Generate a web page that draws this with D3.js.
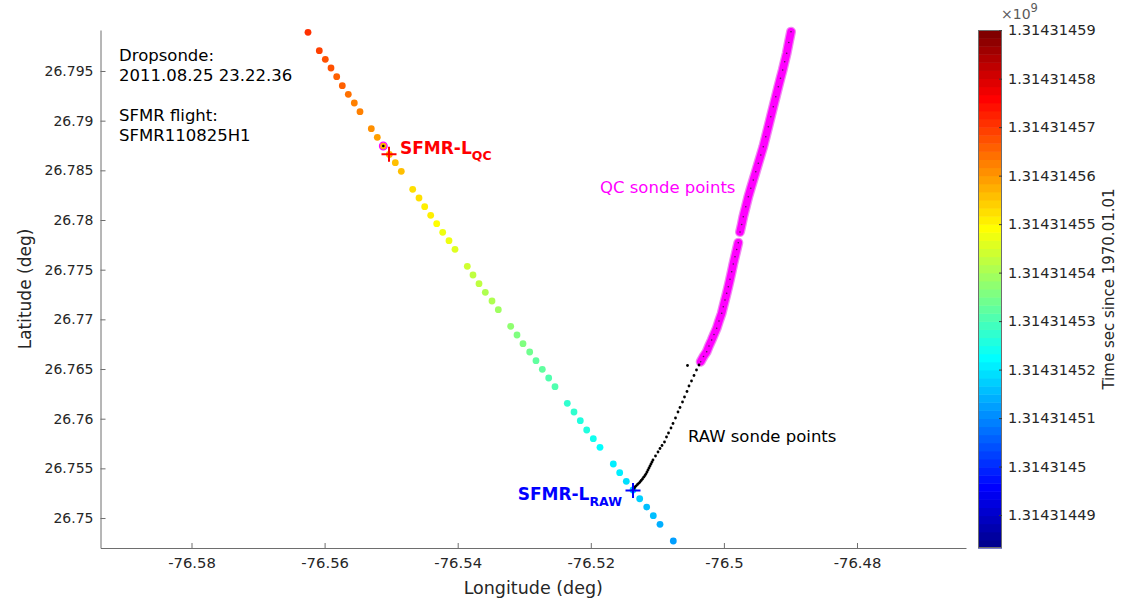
<!DOCTYPE html>
<html>
<head>
<meta charset="utf-8">
<script src="https://cdn.jsdelivr.net/npm/d3@7"></script>
<style>
body { margin: 0; background: #fff; }
text { font-family: "DejaVu Sans", sans-serif; }
</style>
</head>
<body>
<div id="chart"></div>
<script>

// SFMR 1 Hz track (lon, lat, time in sec since 1970.01.01)
const sfmrLon = [-76.562494, -76.560796, -76.559895, -76.559038, -76.558182, -76.557340, -76.556439, -76.555537, -76.554681,
    -76.552983, -76.552081, -76.551180, -76.550278, -76.549376, -76.548475,
    -76.546762, -76.545815, -76.544959, -76.544057, -76.543155, -76.542254, -76.541307, -76.540406,
    -76.538557, -76.537701, -76.536799, -76.535853, -76.534846, -76.533899,
    -76.532036, -76.531089, -76.530188, -76.529181, -76.528234, -76.527287, -76.526326, -76.525379,
    -76.523531, -76.522524, -76.521578, -76.520616, -76.519624, -76.518618,
    -76.516619, -76.515657, -76.514666, -76.513659, -76.512652, -76.511600, -76.510609, -76.509602,
    -76.507603];
const sfmrLat = [26.798896, 26.797043, 26.796178, 26.795302, 26.794426, 26.793520, 26.792654, 26.791779, 26.790903,
    26.789192, 26.788326, 26.787450, 26.786605, 26.785769, 26.784903,
    26.783091, 26.782216, 26.781340, 26.780474, 26.779628, 26.778763, 26.777917, 26.777051,
    26.775340, 26.774465, 26.773589, 26.772723, 26.771847, 26.770971,
    26.769300, 26.768424, 26.767549, 26.766713, 26.765838, 26.764972, 26.764096, 26.763220,
    26.761549, 26.760673, 26.759797, 26.758861, 26.757985, 26.757120,
    26.755439, 26.754563, 26.753697, 26.752821, 26.751943, 26.751107, 26.750234, 26.749366,
    26.747687];
const sfmrTime = [1314314571, 1314314569, 1314314568, 1314314567, 1314314566, 1314314565, 1314314564, 1314314563, 1314314562,
    1314314560, 1314314559, 1314314558, 1314314557, 1314314556, 1314314555,
    1314314553, 1314314552, 1314314551, 1314314550, 1314314549, 1314314548, 1314314547, 1314314546,
    1314314544, 1314314543, 1314314542, 1314314541, 1314314540, 1314314539,
    1314314537, 1314314536, 1314314535, 1314314534, 1314314533, 1314314532, 1314314531, 1314314530,
    1314314528, 1314314527, 1314314526, 1314314525, 1314314524, 1314314523,
    1314314521, 1314314520, 1314314519, 1314314518, 1314314517, 1314314516, 1314314515, 1314314514,
    1314314512];

// raw sonde points
const rawLon = [-76.513659, -76.513358, -76.512983, -76.512607, -76.512232, -76.511856, -76.511555, -76.511255,
    -76.510954, -76.510654, -76.510278, -76.509902, -76.509602, -76.509301, -76.508926, -76.508625,
    -76.508325, -76.507949, -76.507648, -76.507273, -76.506897, -76.506597, -76.506221, -76.505920,
    -76.505545, -76.505244, -76.504869, -76.504493, -76.504117, -76.503741, -76.505470,
    -76.513509, -76.513178, -76.512802, -76.512427, -76.512051, -76.511706, -76.511405, -76.511105, -76.510804];
const rawLat = [26.752822, 26.753124, 26.753375, 26.753627, 26.753929, 26.754281, 26.754633, 26.755036,
    26.755439, 26.755842, 26.756244, 26.756647, 26.756999, 26.757301, 26.757653, 26.758157,
    26.758559, 26.759063, 26.759516, 26.760069, 26.760673, 26.761126, 26.761680, 26.762183,
    26.762737, 26.763291, 26.763794, 26.764348, 26.764901, 26.765405, 26.765354,
    26.752972, 26.753244, 26.753496, 26.753778, 26.754110, 26.754452, 26.754835, 26.755237, 26.755640];

// QC sonde points, two pieces
const qcLonA = [-76.503486, -76.503065, -76.502584, -76.502239, -76.501833, -76.501488, -76.501082, -76.500736,
    -76.500331, -76.500090, -76.499835, -76.499579, -76.499339, -76.499083, -76.498828, -76.498588,
    -76.498332, -76.498077, -76.497836];
const qcLatA = [26.765737, 26.766260, 26.766743, 26.767317, 26.767921, 26.768475, 26.769099, 26.769834,
    26.770609, 26.771273, 26.771948, 26.772622, 26.773287, 26.774031, 26.774797, 26.775572,
    26.776306, 26.777031, 26.777716];
const qcLonB = [-76.497581, -76.497325, -76.497085, -76.496709, -76.496334, -76.495958, -76.495582, -76.495207,
    -76.494831, -76.494455, -76.494080, -76.493704, -76.493328, -76.492953, -76.492577, -76.492201,
    -76.491826, -76.491495, -76.491164, -76.490864, -76.490563, -76.490248, -76.489917];
const qcLatB = [26.778793, 26.779548, 26.780333, 26.781340, 26.782346, 26.783192, 26.784027, 26.784863,
    26.785709, 26.786544, 26.787380, 26.788386, 26.789393, 26.790400, 26.791406, 26.792413,
    26.793420, 26.794265, 26.795101, 26.795936, 26.796782, 26.797869, 26.798956];

const sfmrLQC = [-76.550323, 26.786615];
const sfmrLRAW = [-76.513659, 26.752772];
const qcMatch = [-76.551180, 26.787450];

const xTicks = [-76.58, -76.56, -76.54, -76.52, -76.5, -76.48];
const xTickLabels = ["-76.58", "-76.56", "-76.54", "-76.52", "-76.5", "-76.48"];
const yTicks = [26.75, 26.755, 26.76, 26.765, 26.77, 26.775, 26.78, 26.785, 26.79, 26.795];
const yTickLabels = ["26.75", "26.755", "26.76", "26.765", "26.77", "26.775", "26.78", "26.785", "26.79", "26.795"];
const cTicks = [1314314490, 1314314500, 1314314510, 1314314520, 1314314530, 1314314540,
    1314314550, 1314314560, 1314314570, 1314314580, 1314314590];
const cTickLabels = ["1.31431449", "1.3143145", "1.31431451", "1.31431452", "1.31431453", "1.31431454",
    "1.31431455", "1.31431456", "1.31431457", "1.31431458", "1.31431459"];
const cLimits = [1314314483.2, 1314314590.04];

const infoLines = ["Dropsonde:", "2011.08.25 23.22.36", "", "SFMR flight:", "SFMR110825H1"];

const W = 1122, H = 598;
const plot = {left: 100.5, right: 966, top: 30, bottom: 548};
const axisColor = "#262626";

// matlab jet(64)
function jetMap(n) {
    const m = Math.ceil(n / 4);
    const u = [];
    for (let i = 1; i <= m; i++) u.push(i / m);
    for (let i = 1; i < m; i++) u.push(1);
    for (let i = m; i >= 1; i--) u.push(i / m);
    const g0 = Math.ceil(m / 2) - (n % 4 === 1 ? 1 : 0);
    const R = new Array(n).fill(0), G = new Array(n).fill(0), B = new Array(n).fill(0);
    u.forEach(function (v, j) {
        const g = g0 + j + 1, r = g + m, b = g - m;
        if (g >= 1 && g <= n) G[g - 1] = v;
        if (r >= 1 && r <= n) R[r - 1] = v;
        if (b >= 1 && b <= n) B[b - 1] = v;
    });
    return R.map(function (r, i) { return d3.rgb(r * 255, G[i] * 255, B[i] * 255).formatHex(); });
}
const jet = jetMap(64);

const xScale = d3.scaleLinear().domain([-76.593674, -76.463621]).range([plot.left, plot.right]);
const yScale = d3.scaleLinear().domain([26.746983, 26.799127]).range([plot.bottom, plot.top]);
const cScale = d3.scaleLinear().domain(cLimits).range([plot.bottom, plot.top]);
const colorOf = d3.scaleQuantize().domain(cLimits).range(jet);

const svg = d3.select("#chart").append("svg")
    .attr("width", W)
    .attr("height", H);

svg.append("rect").attr("width", W).attr("height", H).attr("fill", "#fff");

/* axes */
const xAxis = svg.append("g")
    .attr("transform", "translate(0," + plot.bottom + ")")
    .call(d3.axisBottom(xScale)
        .tickValues(xTicks)
        .tickFormat(function (d, i) { return xTickLabels[i]; })
        .tickSizeInner(-5)
        .tickSizeOuter(0)
        .tickPadding(9));

const yAxis = svg.append("g")
    .attr("transform", "translate(" + plot.left + ",0)")
    .call(d3.axisLeft(yScale)
        .tickValues(yTicks)
        .tickFormat(function (d, i) { return yTickLabels[i]; })
        .tickSizeInner(-5)
        .tickSizeOuter(0)
        .tickPadding(7));

[xAxis, yAxis].forEach(function (ax) {
    ax.attr("font-family", "DejaVu Sans").attr("font-size", 14);
    ax.selectAll("path, line").attr("stroke", "#6e6e6e");
    ax.selectAll("text").attr("fill", axisColor);
});
xAxis.attr("font-size", 14.8);

svg.append("text")
    .attr("x", (plot.left + plot.right) / 2)
    .attr("y", 594)
    .attr("text-anchor", "middle")
    .attr("font-size", 17.5)
    .attr("fill", axisColor)
    .text("Longitude (deg)");

svg.append("text")
    .attr("transform", "translate(31," + (plot.top + plot.bottom) / 2 + ") rotate(-90)")
    .attr("text-anchor", "middle")
    .attr("font-size", 17)
    .attr("fill", axisColor)
    .text("Latitude (deg)");

/* sfmr track */
svg.append("g").selectAll("circle")
    .data(sfmrTime)
    .enter()
    .append("circle")
    .attr("cx", function (d, i) { return xScale(sfmrLon[i]); })
    .attr("cy", function (d, i) { return yScale(sfmrLat[i]); })
    .attr("r", 3.4)
    .attr("fill", function (d) { return colorOf(d); });

/* QC sonde points */
const qcLine = d3.line()
    .x(function (d) { return xScale(d[0]); })
    .y(function (d) { return yScale(d[1]); })
    .curve(d3.curveLinear);

const qcPieces = [d3.zip(qcLonA, qcLatA), d3.zip(qcLonB, qcLatB)];

svg.append("g").selectAll("path")
    .data(qcPieces)
    .enter()
    .append("path")
    .attr("d", qcLine)
    .attr("fill", "none")
    .attr("stroke", "#f08af0")
    .attr("stroke-width", 10)
    .attr("stroke-linecap", "round");

svg.append("g").selectAll("path")
    .data(qcPieces)
    .enter()
    .append("path")
    .attr("d", qcLine)
    .attr("fill", "none")
    .attr("stroke", "#ff00ff")
    .attr("stroke-width", 7.5)
    .attr("stroke-linecap", "round");

svg.append("g").selectAll("circle")
    .data(qcPieces[0].concat(qcPieces[1]))
    .enter()
    .append("circle")
    .attr("cx", function (d) { return xScale(d[0]); })
    .attr("cy", function (d) { return yScale(d[1]); })
    .attr("r", 0.8)
    .attr("fill", "#5a145a");

/* raw sonde points */
svg.append("g").selectAll("circle")
    .data(rawLon)
    .enter()
    .append("circle")
    .attr("cx", function (d) { return xScale(d); })
    .attr("cy", function (d, i) { return yScale(rawLat[i]); })
    .attr("r", 1.4)
    .attr("fill", "#000");

/* QC point matched to SFMR */
svg.append("circle")
    .attr("cx", xScale(qcMatch[0]))
    .attr("cy", yScale(qcMatch[1]))
    .attr("r", 3.8)
    .attr("fill", "none")
    .attr("stroke", "#ff00ff")
    .attr("stroke-width", 1.3);
svg.append("circle")
    .attr("cx", xScale(qcMatch[0]))
    .attr("cy", yScale(qcMatch[1]))
    .attr("r", 1.3)
    .attr("fill", "#000");

/* plus markers */
function plus(p, color) {
    const cx = xScale(p[0]), cy = yScale(p[1]), s = 7.5;
    svg.append("path")
        .attr("d", "M" + (cx - s) + "," + cy + "H" + (cx + s) + "M" + cx + "," + (cy - s) + "V" + (cy + s))
        .attr("stroke", color)
        .attr("stroke-width", 2)
        .attr("fill", "none");
}
plus(sfmrLQC, "#ff0000");
plus(sfmrLRAW, "#0000ff");

/* labels */
const lqc = svg.append("text")
    .attr("x", xScale(sfmrLQC[0]) + 11)
    .attr("y", yScale(sfmrLQC[1]) - 0.5)
    .attr("fill", "#ff0000")
    .attr("font-weight", "bold")
    .attr("font-size", 17);
lqc.append("tspan").text("SFMR-L");
lqc.append("tspan").attr("dy", 6).attr("font-size", 12.5).text("QC");

const lraw = svg.append("text")
    .attr("x", xScale(sfmrLRAW[0]) - 11)
    .attr("y", yScale(sfmrLRAW[1]) + 9.5)
    .attr("text-anchor", "end")
    .attr("fill", "#0000ff")
    .attr("font-weight", "bold")
    .attr("font-size", 17);
lraw.append("tspan").text("SFMR-L");
lraw.append("tspan").attr("dy", 6).attr("font-size", 12.5).text("RAW");

svg.append("text")
    .attr("x", 600).attr("y", 193)
    .attr("fill", "#ff00ff")
    .attr("font-size", 16.5)
    .text("QC sonde points");

svg.append("text")
    .attr("x", 688).attr("y", 442)
    .attr("fill", "#000")
    .attr("font-size", 16.5)
    .text("RAW sonde points");

svg.append("g").selectAll("text")
    .data(infoLines)
    .enter()
    .append("text")
    .attr("x", 119)
    .attr("y", function (d, i) { return 61 + i * 20; })
    .attr("fill", "#000")
    .attr("font-size", 16.5)
    .text(function (d) { return d; });

/* colorbar */
const cb = {left: 978, width: 24};
const step = (cLimits[1] - cLimits[0]) / jet.length;
svg.append("g").selectAll("rect")
    .data(jet)
    .enter()
    .append("rect")
    .attr("x", cb.left)
    .attr("width", cb.width)
    .attr("y", function (d, i) { return cScale(cLimits[0] + (i + 1) * step); })
    .attr("height", function (d, i) { return cScale(cLimits[0] + i * step) - cScale(cLimits[0] + (i + 1) * step) + 0.5; })
    .attr("fill", function (d) { return d; });

svg.append("rect")
    .attr("x", cb.left + 0.5)
    .attr("y", plot.top + 0.5)
    .attr("width", cb.width - 1)
    .attr("height", plot.bottom - plot.top - 1)
    .attr("fill", "none")
    .attr("stroke", "#6e6e6e");

const cAxis = svg.append("g")
    .attr("transform", "translate(" + (cb.left + cb.width) + ",0)")
    .call(d3.axisRight(cScale)
        .tickValues(cTicks)
        .tickFormat(function (d, i) { return cTickLabels[i]; })
        .tickSizeInner(-3)
        .tickSizeOuter(0)
        .tickPadding(6));
cAxis.attr("font-family", "DejaVu Sans").attr("font-size", 14.5);
cAxis.select(".domain").remove();
cAxis.selectAll("line").attr("stroke", "#3a3a3a");
cAxis.selectAll("text").attr("fill", axisColor);

const expo = svg.append("text")
    .attr("x", 1001)
    .attr("y", 19)
    .attr("fill", "#5a5a5a")
    .attr("font-size", 14);
expo.append("tspan").text("\u00d710");
expo.append("tspan").attr("dy", -7).attr("font-size", 11.5).text("9");

svg.append("text")
    .attr("transform", "translate(1114," + (plot.top + plot.bottom) / 2 + ") rotate(-90)")
    .attr("text-anchor", "middle")
    .attr("font-size", 15)
    .attr("fill", axisColor)
    .text("Time sec since 1970.01.01");

</script>
</body>
</html>
